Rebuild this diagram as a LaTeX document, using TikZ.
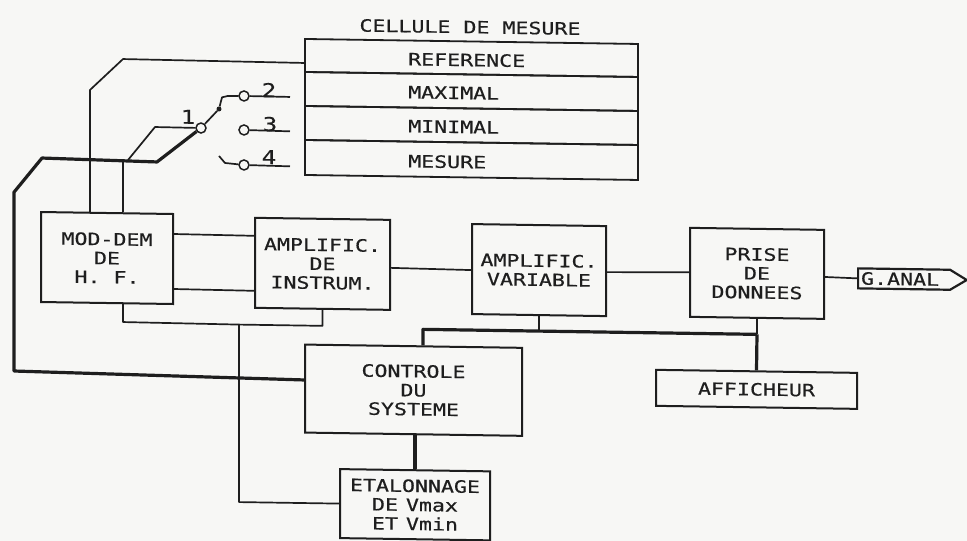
\documentclass[tikz,border=0pt]{standalone}
\usepackage{fontspec}
\usetikzlibrary{shapes.symbols}
\newfontfamily\plotfont[FakeStretch=1.27,FakeBold=0.5]{DejaVu Sans Mono}
\definecolor{ink}{HTML}{1E1E1E}
\definecolor{paper}{HTML}{F7F7F5}
\tikzset{
  wire/.style={draw=ink,line width=1.7pt,line join=round},
  heavy/.style={draw=ink,line width=3.2pt,line join=round},
  heavier/.style={draw=ink,line width=4.5pt},
  blockbox/.style={draw=ink,line width=2pt,text=ink,align=center,inner sep=0pt,
    font=\plotfont\fontsize{17}{19}\selectfont},
  cellrow/.style={draw=ink,line width=1.8pt,minimum width=333pt,inner sep=0pt},
  plain/.style={text=ink,inner sep=0pt,font=\plotfont\fontsize{17}{19}\selectfont},
  digit/.style={text=ink,inner sep=0pt,font=\plotfont\fontsize{19}{19}\selectfont},
  contact/.style={draw=ink,line width=1.5pt,circle,minimum size=10pt,inner sep=0pt,fill=paper},
  knob/.style={fill=ink,circle,minimum size=5pt,inner sep=0pt},
  flag/.style={draw=ink,line width=2.2pt,text=ink,signal,signal to=east,signal pointer angle=62,
    minimum height=20pt,inner xsep=3pt,inner ysep=0pt,font=\plotfont\fontsize{17}{19}\selectfont}
}
\begin{document}
\begin{tikzpicture}
\path[use as bounding box,fill=paper] (0,0) rectangle (967pt,-541pt);
\begin{scope}[x=1pt,y=-1pt,yslant=-0.015,transform shape]
% measuring cell
\node[plain] (title) at (470,20) {CELLULE DE MESURE};
\node[cellrow,minimum height=33pt] (ref) at (471.5,50.9) {};
\node[cellrow,minimum height=34pt] (max) at (471.5,84.4) {};
\node[cellrow,minimum height=34pt] (min) at (471.5,118.4) {};
\node[cellrow,minimum height=35pt] (mes) at (471.5,152.9) {};
\node[plain,anchor=west] (reft) at (408,53) {REFERENCE};
\node[plain,anchor=west] (maxt) at (408,86) {MAXIMAL};
\node[plain,anchor=west] (mint) at (408,120) {MINIMAL};
\node[plain,anchor=west] (mest) at (408,155) {MESURE};
% blocks
\node[blockbox,minimum width=132pt,minimum height=90pt] (mod) at (107,256.4) {MOD-DEM\\DE\\H. F.};
\node[blockbox,minimum width=135pt,minimum height=90pt] (amp) at (322.5,259) {AMPLIFIC.\\DE\\INSTRUM.};
\node[blockbox,minimum width=134pt,minimum height=90pt] (var) at (539,262) {AMPLIFIC.\\VARIABLE};
\node[blockbox,minimum width=134pt,minimum height=89pt] (pri) at (757,262) {PRISE\\DE\\DONNEES};
\node[blockbox,minimum width=201pt,minimum height=36pt] (aff) at (756.5,378) {AFFICHEUR};
\node[blockbox,minimum width=217pt,minimum height=88pt] (ctl) at (413.5,384) {CONTROLE\\DU\\SYSTEME};
\node[blockbox,minimum width=150pt,minimum height=69pt] (eta) at (415,498.5) {ETALONNAGE\\DE\hspace{8pt}Vmax\\ET\hspace{8pt}Vmin};
\node[flag,anchor=west] (sig) at (857,265.5) {G.ANAL\hspace*{8pt}};
% switch
\node[contact] (s1) at (201,125) {};
\node[contact] (s2) at (244,92.3) {};
\node[contact] (s3) at (244,126.3) {};
\node[contact] (s4) at (244,161.3) {};
\node[knob] (kn) at (219,105.7) {};
\node[digit] (d1) at (188,114) {1};
\node[digit] (d2) at (269,86) {2};
\node[digit] (d3) at (270,120) {3};
\node[digit] (d4) at (269,153) {4};
\coordinate (e2) at (290,92.6);
\coordinate (e3) at (290,127);
\coordinate (e4) at (290,162);
\coordinate (st) at (219,152.7);
\draw[wire] (s2) -- (e2);
\draw[wire] (s3) -- (e3);
\draw[wire] (s4) -- (e4);
\draw[wire] (st) -- (225,159.6) -- (s4);
\draw[wire] (s1) -- (kn) -- (222,94) -- (228,92.5) -- (s2);
% reference line
\draw[wire] ([yshift=-7.5pt]ref.west) -- (123,57.2) -- (90,88.6) -- ([xshift=-17pt]mod.north);
% thick control line to the switch
\draw[heavy] ([yshift=8.6pt]ctl.west) -- (14,370.8) -- (14,192) -- (42,157.4) -- (157,159.6) -- (s1);
\draw[wire] (s1) -- (155,124.7) -- (128,158.1);
\coordinate (jm) at (123,158.1);
\draw[wire] (jm) -- ([xshift=16pt]mod.north);
% signal chain
\draw[wire] ([yshift=25pt]mod.east) -- ([yshift=27pt]amp.west);
\draw[wire] ([yshift=-30pt]mod.east) -- ([yshift=-28pt]amp.west);
\draw[wire] ([yshift=-3pt]amp.east) -- ([yshift=-1pt]var.west);
\draw[wire] ([yshift=-1pt]var.east) -- (pri.west);
\draw[wire] ([yshift=-2.6pt]pri.east) -- (sig.west);
% lower bus
\coordinate (bj) at (239,321);
\draw[wire] ([xshift=16pt]mod.south) -- (123,320.2) -- (bj) -- (amp.south |- bj) -- (amp.south);
\draw[wire] (bj) -- (bj |- eta.west) -- (eta.west);
% control bus
\coordinate (bl) at (423,323);
\coordinate (br) at (757,323);
\draw[heavy] ([xshift=9.5pt]ctl.north) -- (bl) -- (br);
\draw[wire] (var.south) -- (var.south |- br);
\draw[wire] (pri.south) -- (br);
\draw[heavy] (br) -- (aff.north);
\draw[heavier] ([xshift=1.5pt]ctl.south) -- (eta.north);
\end{scope}
\end{tikzpicture}
\end{document}
